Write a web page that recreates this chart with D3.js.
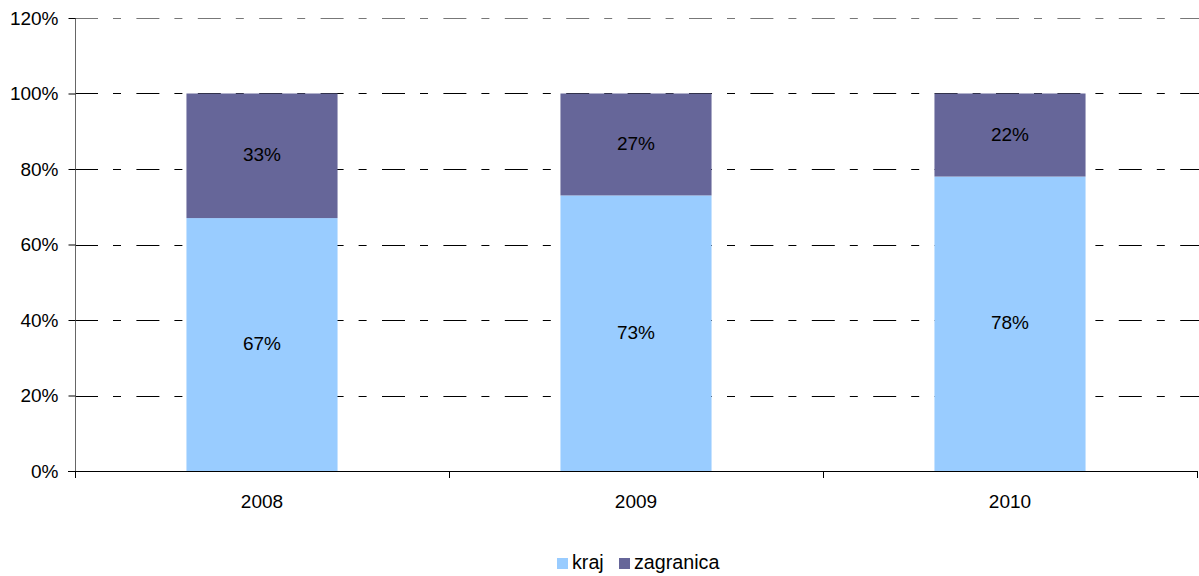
<!DOCTYPE html>
<html><head><meta charset="utf-8">
<script src="https://cdn.jsdelivr.net/npm/d3@7"></script>
<style>body{margin:0;background:#fff}svg{display:block;font-family:"Liberation Sans",Arial,sans-serif}</style>
</head><body>
<svg id="chart" width="1199" height="576"></svg>
<script>
const categories = ["2008", "2009", "2010"];
const kraj = [67, 73, 78];
const zagranica = [33, 27, 22];
const seriesNames = ["kraj", "zagranica"];
const seriesColors = ["#99CCFF", "#666699"];
const yTicks = [0, 20, 40, 60, 80, 100, 120];

const svg = d3.select("#chart");
const L = 75, R = 1197, T = 18, B = 471;
const x = d3.scaleBand().domain(categories).range([L, R]).padding(0);
const y = d3.scaleLinear().domain([0, 120]).range([B, T]);
const barW = x.bandwidth() * 0.404;

// gridlines
svg.append("g").selectAll("line").data(yTicks.filter(d => d > 0)).join("line")
  .attr("x1", L).attr("x2", R + 2)
  .attr("y1", d => Math.round(y(d)) + 0.5).attr("y2", d => Math.round(y(d)) + 0.5)
  .attr("stroke", d => d === 120 ? "#777" : "#000").attr("stroke-width", 1)
  .attr("stroke-dasharray", "23,15,8,15.4");

// bars
const data = categories.map((c, i) => ({c, v: [kraj[i], zagranica[i]]}));
data.forEach(d => {
  let acc = 0;
  d.v.forEach((v, s) => {
    const y0 = acc, y1 = acc + v; acc = y1;
    const cx = x(d.c) + x.bandwidth() / 2;
    svg.append("rect")
      .attr("x", cx - barW / 2).attr("width", barW)
      .attr("y", y(y1)).attr("height", y(y0) - y(y1))
      .attr("fill", seriesColors[s]);
    svg.append("text")
      .attr("x", cx).attr("y", (y(y0) + y(y1)) / 2 - 1)
      .attr("text-anchor", "middle").attr("dominant-baseline", "central")
      .attr("font-size", 19).attr("fill", "#000")
      .text(v + "%");
  });
});

// y axis
const yAxis = d3.axisLeft(y).tickValues(yTicks).tickFormat(d => d + "%").tickSize(7).tickPadding(10);
const gy = svg.append("g").attr("transform", `translate(${L + 0.5},0)`).call(yAxis);
gy.select(".domain").attr("stroke", "#666").attr("d", `M0,${T}V${B}`);
gy.selectAll(".tick line").attr("stroke", "#000");
gy.selectAll("text").attr("font-size", 19).attr("font-family", "Liberation Sans, Arial, sans-serif").attr("fill", "#000");

// x axis
svg.append("line").attr("x1", L - 7).attr("x2", R + 1).attr("y1", B + 0.5).attr("y2", B + 0.5).attr("stroke", "#000");
const bounds = categories.map(c => x(c)).concat([R]);
svg.append("g").selectAll("line").data(bounds).join("line")
  .attr("x1", d => Math.round(d) + 0.5).attr("x2", d => Math.round(d) + 0.5)
  .attr("y1", B).attr("y2", B + 7).attr("stroke", "#000");
svg.append("g").selectAll("text").data(categories).join("text")
  .attr("x", d => x(d) + x.bandwidth() / 2).attr("y", 508)
  .attr("text-anchor", "middle").attr("font-size", 19).text(d => d);

// legend
const legendItems = [{n: seriesNames[0], c: seriesColors[0], x: 557}, {n: seriesNames[1], c: seriesColors[1], x: 619}];
const lg = svg.append("g");
legendItems.forEach(it => {
  lg.append("rect").attr("x", it.x).attr("y", 558).attr("width", 11).attr("height", 11).attr("fill", it.c);
  lg.append("text").attr("x", it.x + 15).attr("y", 569).attr("font-size", 19.7).text(it.n);
});
</script>
</body></html>
